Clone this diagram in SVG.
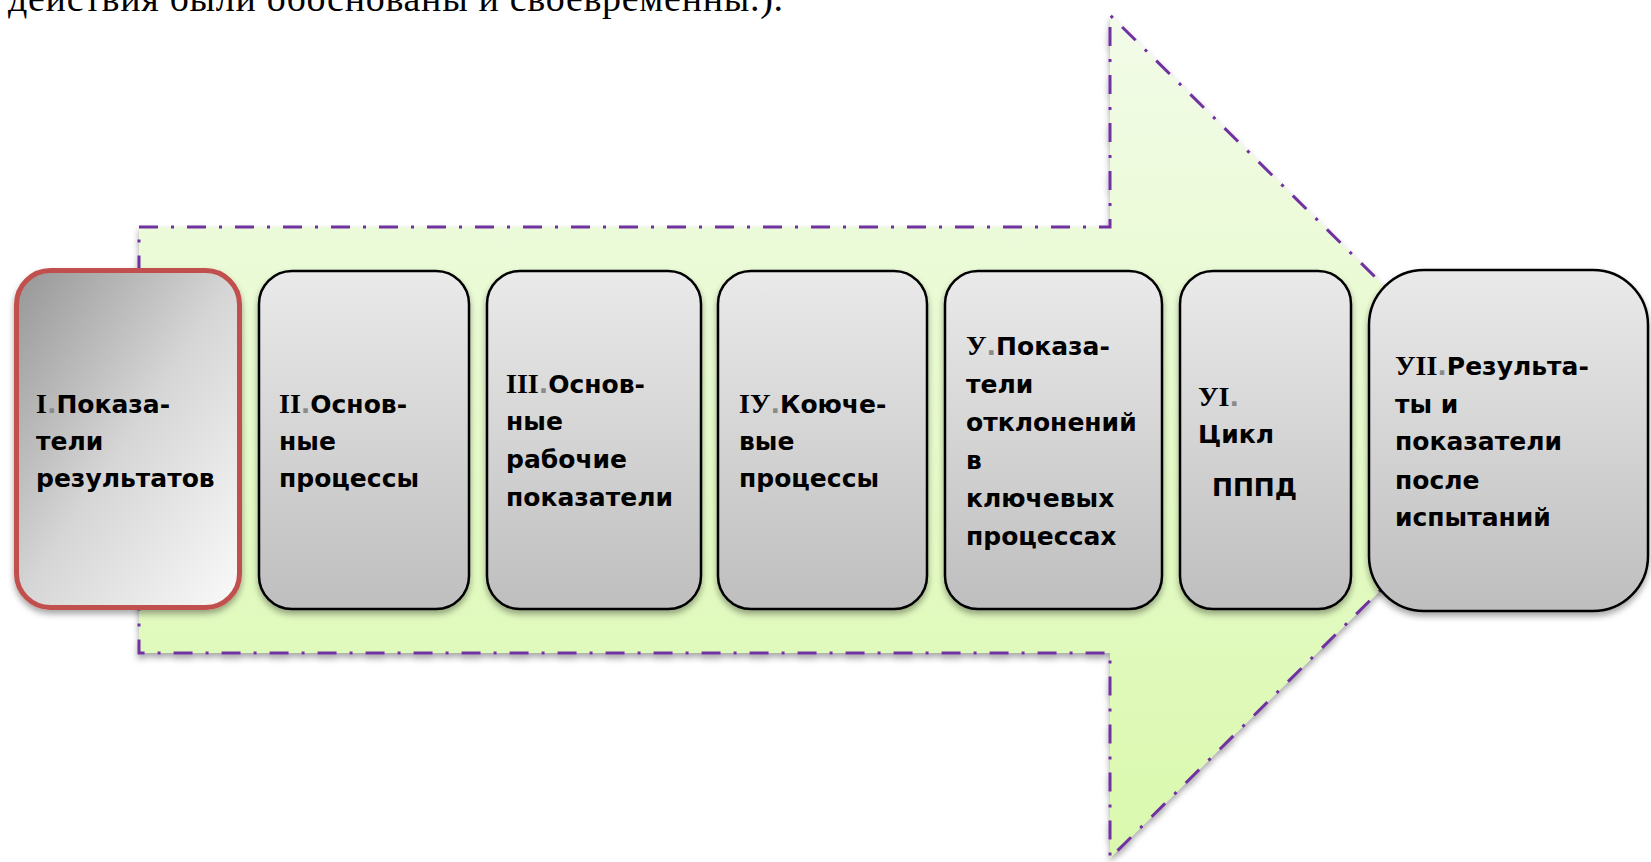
<svg xmlns="http://www.w3.org/2000/svg" width="1651" height="862" viewBox="0 0 1651 862">
  <style>
    .lbl { font-family: "DejaVu Sans", "Noto Sans", sans-serif; font-weight: bold; font-size: 25px; fill: #000; }
    .num { font-family: "Liberation Serif", "DejaVu Serif", serif; font-weight: bold; font-size: 28px; }
    .dot { fill: #8a8a8a; }
    .box { fill: url(#boxFill); stroke: #000; stroke-width: 2.5; filter: url(#shadow); }
    .head { font-family: "Liberation Serif", "Times New Roman", serif; font-size: 38px; fill: #000; }
  </style>
  <defs>
    <linearGradient id="arrowFill" x1="0" y1="0" x2="0" y2="1">
      <stop offset="0" stop-color="#F2FBE8"/>
      <stop offset="1" stop-color="#DAF9AD"/>
    </linearGradient>
    <linearGradient id="boxFill" x1="0" y1="0" x2="0" y2="1">
      <stop offset="0" stop-color="#EAEAEA"/>
      <stop offset="1" stop-color="#BEBEBE"/>
    </linearGradient>
    <linearGradient id="firstFill" x1="0" y1="0" x2="1" y2="1">
      <stop offset="0" stop-color="#969696"/>
      <stop offset="0.5" stop-color="#D6D6D6"/>
      <stop offset="1" stop-color="#FAFAFA"/>
    </linearGradient>
    <filter id="shadow" x="-10%" y="-10%" width="120%" height="125%">
      <feDropShadow dx="0" dy="4" stdDeviation="3" flood-color="#000" flood-opacity="0.35"/>
    </filter>
  </defs>

  <rect width="1651" height="862" fill="#fff"/>

  <!-- line of body text running off the page top -->
  <text class="head" x="8" y="11" textLength="775" lengthAdjust="spacing">действия были обоснованы и своевременны.).</text>

  <!-- large block arrow behind the steps -->
  <g id="arrow">
    <path d="M139,227 H1110 V15 L1536,436 L1110,858 V653 H139 Z" fill="url(#arrowFill)" stroke="#7030A0" stroke-width="3" stroke-dasharray="19,13,3,13" filter="url(#shadow)"/>
  </g>

  <g id="connectors"></g>

  <g id="step1">
    <rect x="16.5" y="270.5" width="223" height="337" rx="34" fill="url(#firstFill)" stroke="#C0504D" stroke-width="5" filter="url(#shadow)"/>
    <text class="lbl"><tspan x="36" y="413"><tspan class="num">I</tspan><tspan class="dot">.</tspan>Показа-</tspan><tspan x="36" y="450">тели</tspan><tspan x="36" y="487">результатов</tspan></text>
  </g>

  <g id="step2">
    <rect class="box" x="259" y="271" width="210" height="338" rx="33"/>
    <text class="lbl"><tspan x="279" y="413"><tspan class="num">II</tspan><tspan class="dot">.</tspan>Основ-</tspan><tspan x="279" y="450">ные</tspan><tspan x="279" y="487">процессы</tspan></text>
  </g>

  <g id="step3">
    <rect class="box" x="487" y="271" width="214" height="338" rx="33"/>
    <text class="lbl"><tspan x="506" y="393"><tspan class="num">III</tspan><tspan class="dot">.</tspan>Основ-</tspan><tspan x="506" y="430">ные</tspan><tspan x="506" y="468">рабочие</tspan><tspan x="506" y="506">показатели</tspan></text>
  </g>

  <g id="step4">
    <rect class="box" x="718" y="271" width="209" height="338" rx="33"/>
    <text class="lbl"><tspan x="739" y="413"><tspan class="num">IУ</tspan><tspan class="dot">.</tspan>Коюче-</tspan><tspan x="739" y="450">вые</tspan><tspan x="739" y="487">процессы</tspan></text>
  </g>

  <g id="step5">
    <rect class="box" x="945" y="271" width="217" height="338" rx="33"/>
    <text class="lbl"><tspan x="966" y="355"><tspan class="num">У</tspan><tspan class="dot">.</tspan>Показа-</tspan><tspan x="966" y="393">тели</tspan><tspan x="966" y="431">отклонений</tspan><tspan x="966" y="469">в</tspan><tspan x="966" y="507">ключевых</tspan><tspan x="966" y="545">процессах</tspan></text>
  </g>

  <g id="step6">
    <rect class="box" x="1180" y="271" width="171" height="338" rx="33"/>
    <text class="lbl"><tspan x="1198" y="406"><tspan class="num">УI</tspan><tspan class="dot">.</tspan></tspan><tspan x="1198" y="443">Цикл</tspan><tspan x="1212" y="496">ПППД</tspan></text>
  </g>

  <g id="step7">
    <rect class="box" x="1369" y="270" width="279" height="341" rx="55"/>
    <text class="lbl"><tspan x="1395" y="375"><tspan class="num">УII</tspan><tspan class="dot">.</tspan>Результа-</tspan><tspan x="1395" y="413">ты и</tspan><tspan x="1395" y="450">показатели</tspan><tspan x="1395" y="489">после</tspan><tspan x="1395" y="526">испытаний</tspan></text>
  </g>
</svg>
